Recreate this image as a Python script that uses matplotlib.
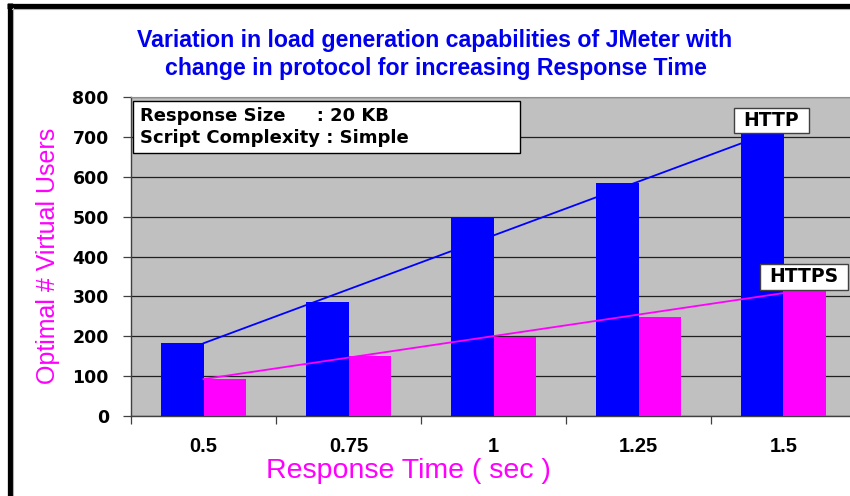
import matplotlib
matplotlib.use("Agg")
import matplotlib.pyplot as plt
from matplotlib.patches import Rectangle
from matplotlib.lines import Line2D
import numpy as np

response_times = ["0.5", "0.75", "1", "1.25", "1.5"]
http_users = [183, 287, 500, 586, 710]
https_users = [93, 150, 198, 248, 314]

BLUE = "#0000FF"
MAGENTA = "#FF00FF"
GRAY = "#C0C0C0"

W, H = 850, 496
fig = plt.figure(figsize=(W / 100, H / 100), dpi=100)
fig.patch.set_facecolor("white")

ax = fig.add_axes([131 / W, (H - 416) / H, 725 / W, (416 - 97.3) / H])
ax.set_facecolor(GRAY)

x = np.arange(len(response_times))
bw = 0.293
ax.bar(x - bw / 2, http_users, bw, color=BLUE, zorder=3)
ax.bar(x + bw / 2, https_users, bw, color=MAGENTA, zorder=3)

# linear trend lines like the spreadsheet version
for vals, col in ((http_users, BLUE), (https_users, MAGENTA)):
    k, b = np.polyfit(x, vals, 1)
    ax.plot(x, k * x + b, color=col, lw=1.3, zorder=4)

ax.set_xlim(-0.5, len(x) - 0.5)
ax.set_ylim(0, 800)
ax.set_yticks(np.arange(0, 801, 100))
ax.yaxis.grid(True, color="#202020", lw=0.9, zorder=1)
ax.set_axisbelow(True)

ax.set_xticks(np.arange(-0.5, len(x)), labels=[])
ax.set_xticks(x, minor=True)
ax.set_xticklabels(response_times, minor=True, fontsize=14.5, fontweight="bold",
                   family="Liberation Sans")
ax.tick_params(axis="x", which="major", length=6, width=0.9, color="#404040")
ax.tick_params(axis="x", which="minor", length=0, pad=15)
ax.tick_params(axis="y", length=6, width=0.9, color="#404040", pad=10,
               labelsize=12.5)
for lbl in ax.get_yticklabels():
    lbl.set_fontweight("bold")
    lbl.set_family("DejaVu Sans")

for side in ("left", "bottom"):
    ax.spines[side].set_color("#404040")
    ax.spines[side].set_linewidth(1.0)
ax.spines["top"].set_color("#909090")
ax.spines["right"].set_visible(False)

# info box
ax.add_patch(Rectangle((-0.486, 660), 2.669, 131, facecolor="white",
                       edgecolor="black", lw=1.0, zorder=5))
ax.text(-0.44, 752, "Response Size     : 20 KB", fontsize=13,
        fontweight="bold", va="center", zorder=6)
ax.text(-0.44, 698, "Script Complexity : Simple", fontsize=13,
        fontweight="bold", va="center", zorder=6)

# series labels
for (x0, x1, y0, y1, name) in ((3.659, 4.176, 710, 773, "HTTP"),
                               (3.838, 4.445, 316, 382, "HTTPS")):
    ax.add_patch(Rectangle((x0, y0), x1 - x0, y1 - y0, facecolor="white",
                           edgecolor="#404040", lw=1.0, zorder=5))
    ax.text((x0 + x1) / 2, (y0 + y1) / 2, name, fontsize=13.5,
            fontweight="bold", ha="center", va="center", zorder=6)

fig.text(435 / W, 1 - 41 / H,
         "Variation in load generation capabilities of JMeter with",
         color="#0000EE", fontsize=16.7, fontweight="bold", ha="center",
         va="center", family="Liberation Sans")
fig.text(436 / W, 1 - 68 / H,
         "change in protocol for increasing Response Time",
         color="#0000EE", fontsize=16.7, fontweight="bold", ha="center",
         va="center", family="Liberation Sans")

fig.text(48 / W, 1 - 256 / H, "Optimal # Virtual Users", color=MAGENTA,
         fontsize=18, rotation=90, ha="center", va="center",
         family="Liberation Sans")
fig.text(408 / W, 1 - 471 / H, "Response Time ( sec )", color=MAGENTA,
         fontsize=20.5, ha="center", va="center", family="Liberation Sans")

# frame on the left and top
fig.add_artist(Line2D([9.5 / W, 9.5 / W], [0, 1 - 3 / H], color="black",
                      lw=3.8, solid_capstyle="butt"))
fig.add_artist(Line2D([7 / W, 1], [1 - 5.5 / H, 1 - 5.5 / H], color="black",
                      lw=3.8, solid_capstyle="butt"))
fig.add_artist(Line2D([12.8 / W, 12.8 / W], [0, 1 - 8 / H], color="#b0b0b0",
                      lw=0.8))
fig.add_artist(Line2D([12 / W, 1], [1 - 8.6 / H, 1 - 8.6 / H],
                      color="#b0b0b0", lw=0.8))

fig.savefig("out.png", dpi=100)
